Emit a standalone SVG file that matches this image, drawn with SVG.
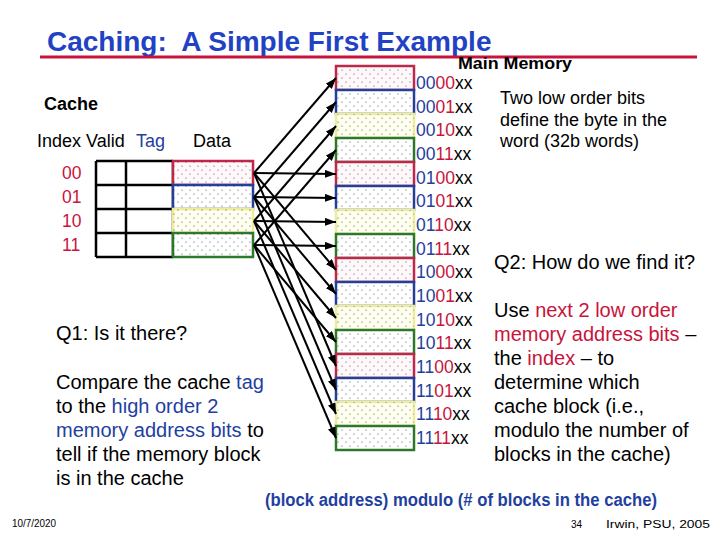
<svg xmlns="http://www.w3.org/2000/svg" width="720" height="540" viewBox="0 0 720 540">
<defs>
<pattern id="dots" width="8" height="8" patternUnits="userSpaceOnUse"><circle cx="2" cy="2" r="0.6" fill="#444"/><circle cx="6" cy="6" r="0.6" fill="#444"/></pattern>
<marker id="ah" markerWidth="11" markerHeight="8" refX="11" refY="4" orient="auto" markerUnits="userSpaceOnUse"><path d="M0,0 L11,4 L0,8 Z" fill="#000"/></marker>
</defs>
<style>
text{font-family:"Liberation Sans",Arial,Helvetica,sans-serif;fill:#000;white-space:pre}
.b{fill:#1f3fa0}
.r{fill:#c8143c}
.t20{font-size:20px}
.t18{font-size:18px}
.lab{font-size:17.5px}
.red{stroke:#c0284a;fill:#fff8fa}
.blu{stroke:#22409a;fill:#ffffff}
.yel{stroke:#ecec9a;fill:#fffff0}
.grn{stroke:#2a7a2a;fill:#ffffff}
.blk{stroke-width:2.5}
.dot{fill:url(#dots);stroke:none}
.tab{stroke:#000;stroke-width:2.5;fill:none}
.arr{stroke:#000;stroke-width:2;fill:none;marker-end:url(#ah)}
</style>
<rect width="720" height="540" fill="#fff"/>

<g id="title">
<text x="47" y="51" font-size="28" font-weight="bold" style="fill:#1f43c4">Caching:  A Simple First Example</text>
<line x1="40" y1="57" x2="697" y2="57" stroke="#c8143c" stroke-width="3"/>
</g>

<g id="cache">
<text x="44" y="110" class="t18" font-weight="bold">Cache</text>
<text x="37" y="147" class="t18">Index Valid</text>
<text x="136" y="147" class="t18 b">Tag</text>
<text x="193" y="147" class="t18">Data</text>
<text x="62" y="179" class="lab r">00</text>
<text x="62" y="203" class="lab r">01</text>
<text x="62" y="227" class="lab r">10</text>
<text x="62" y="251" class="lab r">11</text>
<path class="tab" d="M96,161 H173 M96,185 H173 M96,209 H173 M96,233 H173 M96,257 H173 M96,161 V257 M126,161 V257 M173,161 V257"/>
<g id="c00"><rect class="red blk" x="173" y="161" width="80" height="24"/><rect class="dot" x="173" y="161" width="80" height="24"/></g>
<g id="c01"><rect class="blu blk" x="173" y="185" width="80" height="24"/><rect class="dot" x="173" y="185" width="80" height="24"/></g>
<g id="c10"><rect class="yel blk" x="173" y="209" width="80" height="24"/><rect class="dot" x="173" y="209" width="80" height="24"/></g>
<g id="c11"><rect class="grn blk" x="173" y="233" width="80" height="24"/><rect class="dot" x="173" y="233" width="80" height="24"/></g>
</g>

<g id="memory">
<text x="458" y="69" font-size="17" font-weight="bold" textLength="114" lengthAdjust="spacingAndGlyphs">Main Memory</text>
<g id="m0"><rect class="red blk" x="336" y="66" width="78" height="24"/><rect class="dot" x="336" y="66" width="78" height="24"/></g>
<g id="m1"><rect class="blu blk" x="336" y="90" width="78" height="24"/><rect class="dot" x="336" y="90" width="78" height="24"/></g>
<g id="m2"><rect class="yel blk" x="336" y="114" width="78" height="24"/><rect class="dot" x="336" y="114" width="78" height="24"/></g>
<g id="m3"><rect class="grn blk" x="336" y="138" width="78" height="24"/><rect class="dot" x="336" y="138" width="78" height="24"/></g>
<g id="m4"><rect class="red blk" x="336" y="162" width="78" height="24"/><rect class="dot" x="336" y="162" width="78" height="24"/></g>
<g id="m5"><rect class="blu blk" x="336" y="186" width="78" height="24"/><rect class="dot" x="336" y="186" width="78" height="24"/></g>
<g id="m6"><rect class="yel blk" x="336" y="210" width="78" height="24"/><rect class="dot" x="336" y="210" width="78" height="24"/></g>
<g id="m7"><rect class="grn blk" x="336" y="234" width="78" height="24"/><rect class="dot" x="336" y="234" width="78" height="24"/></g>
<g id="m8"><rect class="red blk" x="336" y="258" width="78" height="24"/><rect class="dot" x="336" y="258" width="78" height="24"/></g>
<g id="m9"><rect class="blu blk" x="336" y="282" width="78" height="24"/><rect class="dot" x="336" y="282" width="78" height="24"/></g>
<g id="m10"><rect class="yel blk" x="336" y="306" width="78" height="24"/><rect class="dot" x="336" y="306" width="78" height="24"/></g>
<g id="m11"><rect class="grn blk" x="336" y="330" width="78" height="24"/><rect class="dot" x="336" y="330" width="78" height="24"/></g>
<g id="m12"><rect class="red blk" x="336" y="354" width="78" height="24"/><rect class="dot" x="336" y="354" width="78" height="24"/></g>
<g id="m13"><rect class="blu blk" x="336" y="378" width="78" height="24"/><rect class="dot" x="336" y="378" width="78" height="24"/></g>
<g id="m14"><rect class="yel blk" x="336" y="402" width="78" height="24"/><rect class="dot" x="336" y="402" width="78" height="24"/></g>
<g id="m15"><rect class="grn blk" x="336" y="426" width="78" height="24"/><rect class="dot" x="336" y="426" width="78" height="24"/></g>
<g>
<text x="416" y="89" class="lab"><tspan class="b">00</tspan><tspan class="r">00</tspan>xx</text>
<text x="416" y="112.7" class="lab"><tspan class="b">00</tspan><tspan class="r">01</tspan>xx</text>
<text x="416" y="136.3" class="lab"><tspan class="b">00</tspan><tspan class="r">10</tspan>xx</text>
<text x="416" y="160" class="lab"><tspan class="b">00</tspan><tspan class="r">11</tspan>xx</text>
<text x="416" y="183.7" class="lab"><tspan class="b">01</tspan><tspan class="r">00</tspan>xx</text>
<text x="416" y="207.3" class="lab"><tspan class="b">01</tspan><tspan class="r">01</tspan>xx</text>
<text x="416" y="231" class="lab"><tspan class="b">01</tspan><tspan class="r">10</tspan>xx</text>
<text x="416" y="254.7" class="lab"><tspan class="b">01</tspan><tspan class="r">11</tspan>xx</text>
<text x="416" y="278.3" class="lab"><tspan class="b">10</tspan><tspan class="r">00</tspan>xx</text>
<text x="416" y="302" class="lab"><tspan class="b">10</tspan><tspan class="r">01</tspan>xx</text>
<text x="416" y="325.7" class="lab"><tspan class="b">10</tspan><tspan class="r">10</tspan>xx</text>
<text x="416" y="349.3" class="lab"><tspan class="b">10</tspan><tspan class="r">11</tspan>xx</text>
<text x="416" y="373" class="lab"><tspan class="b">11</tspan><tspan class="r">00</tspan>xx</text>
<text x="416" y="396.7" class="lab"><tspan class="b">11</tspan><tspan class="r">01</tspan>xx</text>
<text x="416" y="420.3" class="lab"><tspan class="b">11</tspan><tspan class="r">10</tspan>xx</text>
<text x="416" y="444" class="lab"><tspan class="b">11</tspan><tspan class="r">11</tspan>xx</text>
</g>
</g>

<g id="connectors">
<line class="arr" x1="254" y1="173" x2="336" y2="78"/>
<line class="arr" x1="254" y1="197" x2="336" y2="102"/>
<line class="arr" x1="254" y1="221" x2="336" y2="126"/>
<line class="arr" x1="254" y1="245" x2="336" y2="150"/>
<line class="arr" x1="254" y1="173" x2="336" y2="174"/>
<line class="arr" x1="254" y1="197" x2="336" y2="198"/>
<line class="arr" x1="254" y1="221" x2="336" y2="222"/>
<line class="arr" x1="254" y1="245" x2="336" y2="246"/>
<line class="arr" x1="254" y1="173" x2="336" y2="270"/>
<line class="arr" x1="254" y1="197" x2="336" y2="294"/>
<line class="arr" x1="254" y1="221" x2="336" y2="318"/>
<line class="arr" x1="254" y1="245" x2="336" y2="342"/>
<line class="arr" x1="254" y1="173" x2="336" y2="366"/>
<line class="arr" x1="254" y1="197" x2="336" y2="390"/>
<line class="arr" x1="254" y1="221" x2="336" y2="414"/>
<line class="arr" x1="254" y1="245" x2="336" y2="438"/>
</g>

<g id="note-bytes">
<text x="500" y="104" class="t18">Two low order bits</text>
<text x="500" y="126" class="t18">define the byte in the</text>
<text x="500" y="147" class="t18">word (32b words)</text>
</g>

<g id="q1">
<text x="56" y="340" class="t20">Q1: Is it there?</text>
<text x="56" y="389" class="t20">Compare the cache <tspan class="b">tag</tspan></text>
<text x="56" y="413" class="t20">to the <tspan class="b">high order 2</tspan></text>
<text x="56" y="437" class="t20"><tspan class="b">memory address bits</tspan> to</text>
<text x="56" y="461" class="t20">tell if the memory block</text>
<text x="56" y="485" class="t20">is in the cache</text>
</g>

<g id="q2">
<text x="494" y="269" class="t20">Q2: How do we find it?</text>
<text x="494" y="317" class="t20">Use <tspan class="r">next 2 low order</tspan></text>
<text x="494" y="341" class="t20"><tspan class="r">memory address bits</tspan> –</text>
<text x="494" y="365" class="t20">the <tspan class="r">index</tspan> – to</text>
<text x="494" y="389" class="t20">determine which</text>
<text x="494" y="413" class="t20">cache block (i.e.,</text>
<text x="494" y="437" class="t20">modulo the number of</text>
<text x="494" y="461" class="t20">blocks in the cache)</text>
</g>

<g id="formula">
<text x="265" y="506" font-size="18" font-weight="bold" class="b" textLength="392" lengthAdjust="spacingAndGlyphs">(block address) modulo (# of blocks in the cache)</text>
</g>

<g id="footer">
<text x="12" y="527" font-size="10" textLength="44" lengthAdjust="spacingAndGlyphs">10/7/2020</text>
<text x="571" y="528" font-size="10">34</text>
<text x="606" y="528" font-size="10" textLength="104" lengthAdjust="spacingAndGlyphs">Irwin, PSU, 2005</text>
</g>
</svg>
